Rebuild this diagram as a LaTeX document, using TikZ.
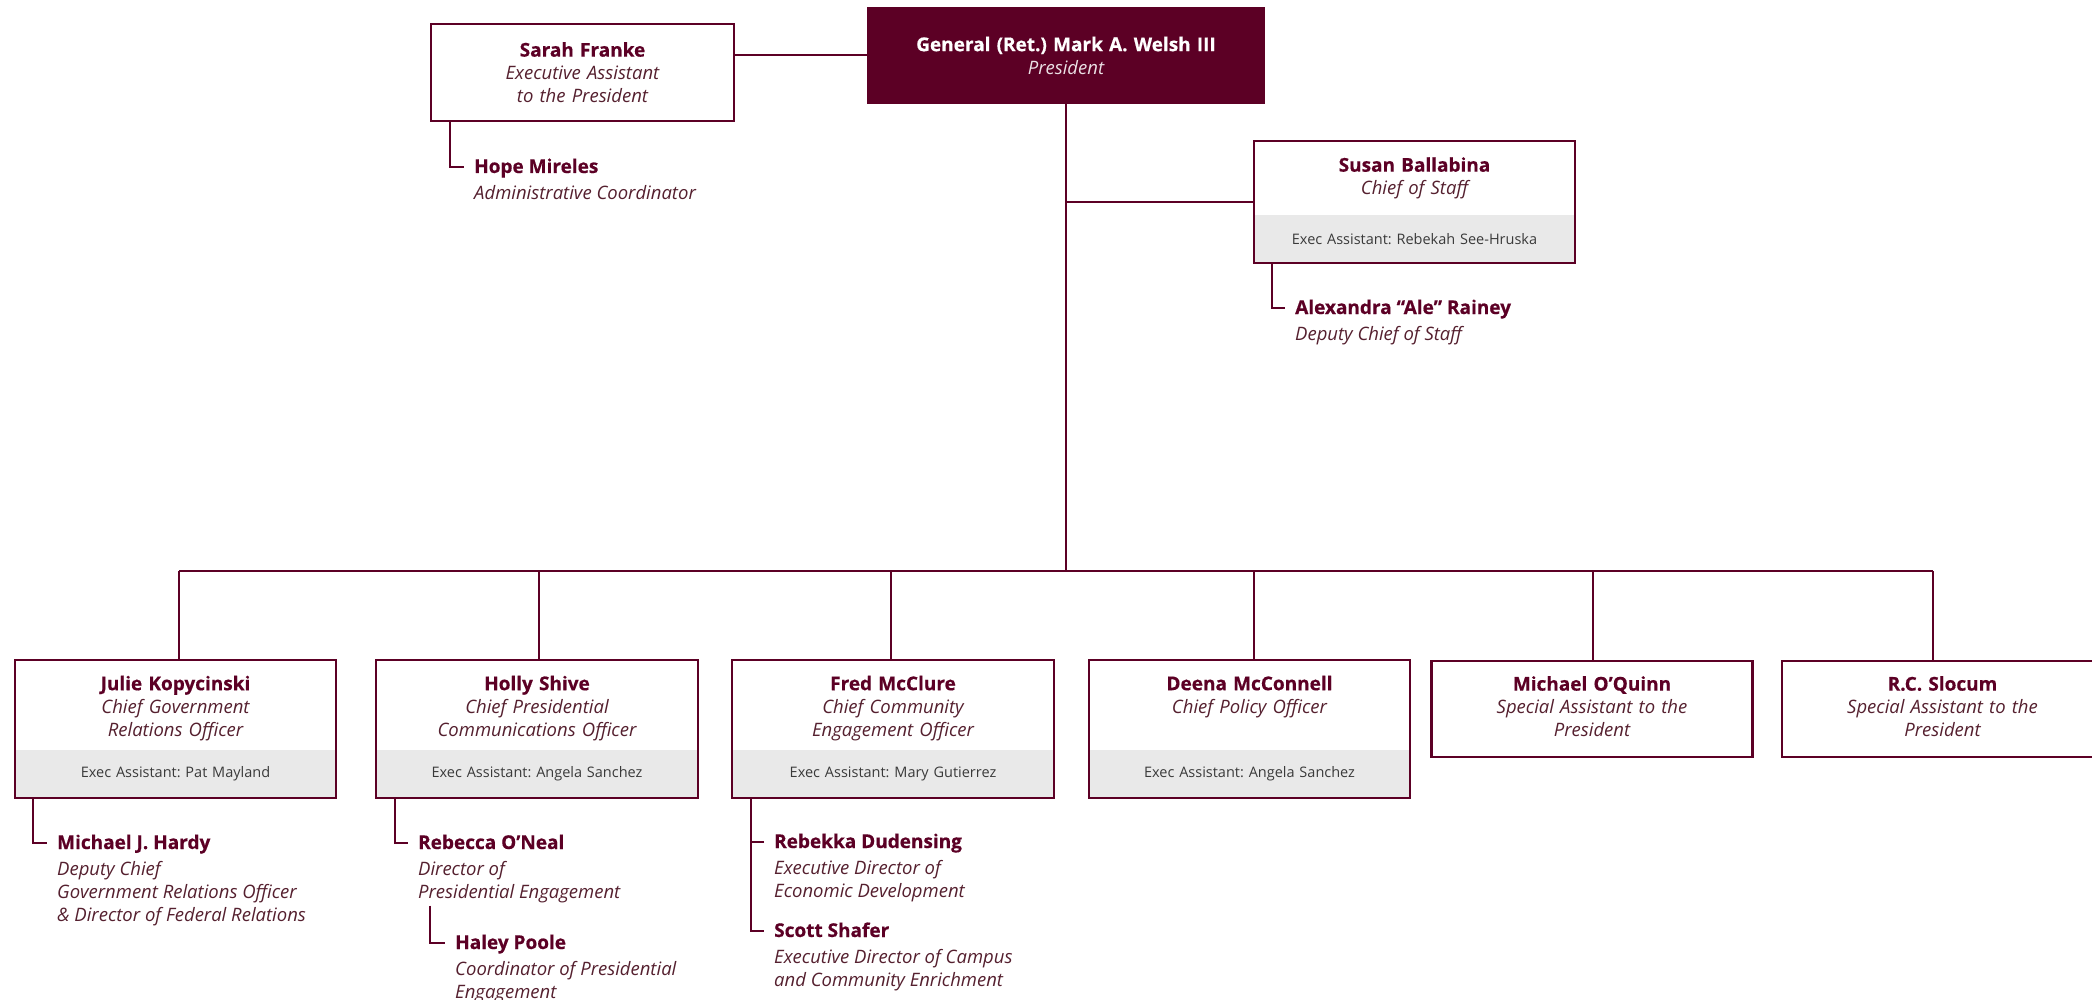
\documentclass[tikz,border=0pt]{standalone}
\usepackage{fontspec}
\setmainfont{Open Sans}[BoldFeatures={FakeBold=0.5}]
\usetikzlibrary{fit}
\definecolor{maroon}{HTML}{5C0025}
\definecolor{titlec}{HTML}{55202F}
\definecolor{bandc}{HTML}{E9E9E9}
\definecolor{execc}{HTML}{3A3A3A}
\frenchspacing
\newcommand\pnm[1]{{\fontsize{19}{23}\selectfont\bfseries\color{maroon}#1}}
\newcommand\ptl[1]{{\itshape\color{titlec}#1}}
\newcommand\pnmw[1]{{\fontsize{19}{23}\selectfont\bfseries\color{white}#1}}
\newcommand\ptlw[1]{{\itshape\color{white!88!maroon}#1}}
\newcommand\lns[1]{\begin{tabular}[t]{@{}l@{}}#1\end{tabular}}
\newcommand\fst[1][23pt]{\rule{0pt}{#1}}
\newcommand\lst{\rule[-6pt]{0pt}{0pt}}
\begin{document}
\begin{tikzpicture}[x=1pt,y=-1pt,
  every node/.style={font=\fontsize{18.5}{23}\selectfont},
  conn/.style={draw=maroon, line width=2pt},
  topbox/.style={fill=white, inner sep=0pt, minimum width=321pt, text width=315pt, align=center, minimum height=#1},
  bandbox/.style={fill=bandc, inner sep=0pt, minimum width=321pt, text width=315pt, align=center, minimum height=48pt, font=\fontsize{14.5}{17}\selectfont, text=execc},
  frame/.style={draw=maroon, line width=2.2pt, inner sep=0pt},
  plainbox/.style={draw=maroon, line width=2.2pt, fill=white, inner sep=0pt, align=center, minimum height=96pt, minimum width=321pt, text width=315pt},
  presbox/.style={fill=maroon, inner sep=0pt, align=center, minimum width=398pt, minimum height=97pt, text width=390pt},
  sub/.style={anchor=base west, inner sep=0pt},
]
\useasboundingbox (0,0) rectangle (2092,1000);
\fill[white] (0,0) rectangle (2092,1000);

% President and executive assistant
\node[presbox] (pres) at (1066,55.5) {\pnmw{General (Ret.) Mark A. Welsh III}\\\ptlw{President}};
\node[plainbox, minimum width=303pt, text width=297pt, minimum height=97pt] (sarah) at (582.5,72.5)
  {\pnm{Sarah Franke}\\\ptl{Executive Assistant\\to the President}};
\draw[conn] (sarah.east |- pres.west) -- (pres.west);
\node[sub] (hope) at (474,173) {\lns{\pnm{Hope Mireles}\\[3.5pt]\ptl{Administrative Coordinator}}};
\draw[conn] ([xshift=20pt]sarah.south west) |- ([shift={(-10,-6)}]hope.base west);

% Chief of staff
\node[topbox=73pt, anchor=north] (susanT) at (1414.5,141) {\fst[17pt]\pnm{Susan Ballabina}\\\ptl{Chief of Staff}\lst};
\node[bandbox, anchor=north] (susanB) at (susanT.south) {Exec Assistant: Rebekah See-Hruska};
\node[frame, fit=(susanT)(susanB)] (susan) {};
\node[sub] (ale) at (1295,314) {\lns{\pnm{Alexandra “Ale” Rainey}\\[3.5pt]\ptl{Deputy Chief of Staff}}};
\draw[conn] ([xshift=19.5pt]susan.south west) |- ([shift={(-10,-6)}]ale.base west);

% Trunk and bus
\coordinate (bus) at (1066,571);
\draw[conn] (pres.south) -- (bus);
\draw[conn] (pres.south |- susan.west) -- (susan.west);

% Bottom row
\node[topbox=89pt, anchor=north] (julieT) at (175.5,660) {\fst\pnm{Julie Kopycinski}\\\ptl{Chief Government\\Relations Officer}\lst};
\node[bandbox, anchor=north] (julieB) at (julieT.south) {Exec Assistant: Pat Mayland};
\node[frame, fit=(julieT)(julieB)] (julie) {};

\node[topbox=89pt, anchor=north] (hollyT) at (537,660) {\fst\pnm{Holly Shive}\\\ptl{Chief Presidential\\Communications Officer}\lst};
\node[bandbox, anchor=north] (hollyB) at (hollyT.south) {Exec Assistant: Angela Sanchez};
\node[frame, fit=(hollyT)(hollyB)] (holly) {};

\node[topbox=89pt, anchor=north] (fredT) at (893,660) {\fst\pnm{Fred McClure}\\\ptl{Chief Community\\Engagement Officer}\lst};
\node[bandbox, anchor=north] (fredB) at (fredT.south) {Exec Assistant: Mary Gutierrez};
\node[frame, fit=(fredT)(fredB)] (fred) {};

\node[topbox=89pt, anchor=north] (deenaT) at (1249.5,660) {\fst\pnm{Deena McConnell}\\\ptl{Chief Policy Officer}\\\lst};
\node[bandbox, anchor=north] (deenaB) at (deenaT.south) {Exec Assistant: Angela Sanchez};
\node[frame, fit=(deenaT)(deenaB)] (deena) {};

\node[plainbox, anchor=north] (oquinn) at (1592,660) {\fst[15pt]\pnm{Michael O’Quinn}\\\ptl{Special Assistant to the\\President}\lst};
\node[plainbox, anchor=north] (slocum) at (1942.5,660) {\fst[15pt]\pnm{R.C. Slocum}\\\ptl{Special Assistant to the\\President}\lst};

\draw[conn] ([xshift=3.5pt]julie.north |- bus) -- ([xshift=-9.5pt]slocum.north |- bus);
\draw[conn] ([xshift=3.5pt]julie.north |- bus) -- ([xshift=3.5pt]julie.north);
\draw[conn] ([xshift=2pt]holly.north |- bus) -- ([xshift=2pt]holly.north);
\draw[conn] ([xshift=-2pt]fred.north |- bus) -- ([xshift=-2pt]fred.north);
\draw[conn] ([xshift=4.5pt]deena.north |- bus) -- ([xshift=4.5pt]deena.north);
\draw[conn] ([xshift=1pt]oquinn.north |- bus) -- ([xshift=1pt]oquinn.north);
\draw[conn] ([xshift=-9.5pt]slocum.north |- bus) -- ([xshift=-9.5pt]slocum.north);

% Sub-entries
\node[sub] (hardy) at (57,849) {\lns{\pnm{Michael J. Hardy}\\[3.5pt]\ptl{Deputy Chief}\\\ptl{Government Relations Officer}\\\ptl{\& Director of Federal Relations}}};
\draw[conn] ([xshift=19.5pt]julie.south west) |- ([shift={(-10,-6)}]hardy.base west);

\node[sub] (oneal) at (418,849) {\lns{\pnm{Rebecca O’Neal}\\[3.5pt]\ptl{Director of}\\\ptl{Presidential Engagement}}};
\draw[conn] ([xshift=19.5pt]holly.south west) |- ([shift={(-10,-6)}]oneal.base west);
\node[sub] (poole) at (455,949) {\lns{\pnm{Haley Poole}\\[3pt]\ptl{Coordinator of Presidential}\\\ptl{Engagement}}};
\draw[conn] ([xshift=12pt]oneal.south west) |- ([shift={(-10,-6)}]poole.base west);

\node[sub] (dudensing) at (774,848) {\lns{\pnm{Rebekka Dudensing}\\[3.5pt]\ptl{Executive Director of}\\\ptl{Economic Development}}};
\node[sub] (shafer) at (774,937) {\lns{\pnm{Scott Shafer}\\[3.5pt]\ptl{Executive Director of Campus}\\\ptl{and Community Enrichment}}};
\draw[conn] ([xshift=19.5pt]fred.south west) |- ([shift={(-10,-6)}]shafer.base west);
\draw[conn] ([shift={(-10,-6)}]dudensing.base west) -| ([xshift=19.5pt]fred.south west);
\end{tikzpicture}
\end{document}
